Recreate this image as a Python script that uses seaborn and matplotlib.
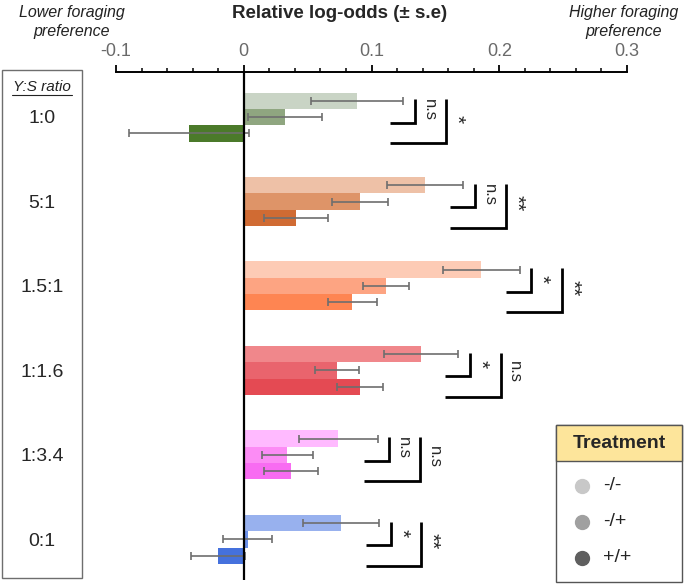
import matplotlib
matplotlib.use("Agg")
import matplotlib.pyplot as plt
from matplotlib.patches import Rectangle
from matplotlib.transforms import blended_transform_factory
import numpy as np
import pandas as pd
import seaborn as sns

# Y:S ratio groups and treatments
ratios = ["1:0", "5:1", "1.5:1", "1:1.6", "1:3.4", "0:1"]
treatments = ["-/-", "-/+", "+/+"]

# relative log-odds per treatment
odds_nn = [0.089, 0.142, 0.186, 0.139, 0.074, 0.076]
odds_np = [0.032, 0.091, 0.111, 0.073, 0.034, 0.003]
odds_pp = [-0.043, 0.041, 0.085, 0.091, 0.037, -0.020]

# standard errors
se_nn = [0.036, 0.030, 0.030, 0.029, 0.031, 0.030]
se_np = [0.029, 0.022, 0.018, 0.017, 0.020, 0.019]
se_pp = [0.047, 0.025, 0.019, 0.018, 0.021, 0.021]

# significance: -/- vs -/+ and -/- vs +/+
sig_pair = ["n.s", "n.s", "*", "*", "n.s", "*"]
sig_all = ["*", "**", "**", "n.s", "n.s", "**"]

# one colour triple per ratio group
group_colors = [
    ["#c9d4c5", "#8fa680", "#4b7a2a"],
    ["#eec1a7", "#de9468", "#d06b33"],
    ["#fdcbb5", "#fda482", "#fe8552"],
    ["#f0878b", "#e9646d", "#e44a53"],
    ["#ffbaff", "#fc8cf5", "#f86cf2"],
    ["#98b1ee", "#6d92e9", "#4571dd"],
]
legend_colors = ["#c8c8c8", "#a0a0a0", "#5f5f5f"]

rows = []
for t, vals, errs in zip(treatments, [odds_nn, odds_np, odds_pp], [se_nn, se_np, se_pp]):
    for r, v, e in zip(ratios, vals, errs):
        rows.append({"ratio": r, "treatment": t, "log_odds": v, "se": e})
df = pd.DataFrame(rows)

sns.set_style("white")
plt.rcParams["font.family"] = ["Liberation Sans", "DejaVu Sans"]

fig = plt.figure(figsize=(6.85, 5.84), dpi=100)
ax = fig.add_axes([116 / 685, 4 / 584, 511 / 685, 508 / 584])

sns.barplot(data=df, x="log_odds", y="ratio", hue="treatment", orient="h",
            order=ratios, hue_order=treatments, width=0.58, errorbar=None,
            legend=False, linewidth=0, ax=ax)

# recolour bars per group and add error bars
bar_containers = list(ax.containers)
for ti, cont in enumerate(bar_containers):
    sub = df[df.treatment == treatments[ti]].set_index("ratio").loc[ratios]
    for gi, bar in enumerate(cont):
        bar.set_facecolor(group_colors[gi][ti])
        bar.set_edgecolor("none")
        yc = bar.get_y() + bar.get_height() / 2
        ax.errorbar(sub.log_odds.iloc[gi], yc, xerr=sub.se.iloc[gi], fmt="none",
                    ecolor="#6e6e6e", elinewidth=1.2, capsize=3.2, capthick=1.2, zorder=3)

ax.set_xlim(-0.1, 0.3)
ax.set_ylim(5.48, -0.533)
ax.axvline(0, color="black", lw=1.6, zorder=4)

# axis on top, ticks pointing up
ax.xaxis.tick_top()
ax.set_xticks([-0.1, 0, 0.1, 0.2, 0.3])
ax.set_xticklabels(["-0.1", "0", "0.1", "0.2", "0.3"])
ax.set_xticks(np.arange(-0.1, 0.301, 0.02), minor=True)
ax.tick_params(axis="x", which="major", direction="out", length=5, width=1.3,
               color="black", labelsize=13, labelcolor="#6a6a6a", pad=4)
ax.tick_params(axis="x", which="minor", direction="out", length=3, width=1.1, color="black")
ax.set_yticks([])
ax.set_xlabel("")
ax.set_ylabel("")
for s in ["left", "right", "bottom"]:
    ax.spines[s].set_visible(False)
ax.spines["top"].set_color("black")
ax.spines["top"].set_linewidth(1.4)

# significance brackets
for gi in range(len(ratios)):
    top_err = max(odds_nn[gi] + se_nn[gi], odds_np[gi] + se_np[gi])
    xs = top_err + 0.009
    xb = xs + 0.024
    xl = xs - 0.0195
    y0 = gi - 0.21
    ax.plot([xl, xs, xs], [gi + 0.07, gi + 0.07, y0], color="black", lw=2.0,
            solid_capstyle="butt", solid_joinstyle="miter", zorder=5)
    ax.plot([xl, xb, xb], [gi + 0.31, gi + 0.31, y0], color="black", lw=2.0,
            solid_capstyle="butt", solid_joinstyle="miter", zorder=5)
    for xt, yt, lab in [(xs, gi - 0.08, sig_pair[gi]), (xb, gi + 0.02, sig_all[gi])]:
        if lab == "n.s":
            ax.text(xt + 0.011, yt, lab, rotation=-90, ha="center", va="center", fontsize=12)
        else:
            ax.text(xt + 0.008, yt, lab, rotation=-90, ha="center", va="center", fontsize=15)

# left box with ratio labels
fig.patches.append(Rectangle((2 / 685, 6 / 584), 80 / 685, 508 / 584, transform=fig.transFigure,
                             facecolor="none", edgecolor="#6e6e6e", lw=1.0))
trans = blended_transform_factory(fig.transFigure, ax.transData)
for gi, r in enumerate(ratios):
    ax.text(42 / 685, gi + 0.02, r, transform=trans, ha="center", va="center", fontsize=14,
            clip_on=False)
fig.text(42 / 685, 1 - 87 / 584, "Y:S ratio", ha="center", va="center", fontsize=11,
         style="italic", color="#222222")
fig.lines.append(plt.Line2D([12 / 685, 72 / 685], [1 - 95 / 584, 1 - 95 / 584],
                            transform=fig.transFigure, color="#222222", lw=0.8))

# header texts
fig.text(340 / 685, 1 - 13 / 584, "Relative log-odds (± s.e)", ha="center", va="center",
         fontsize=13.5, fontweight="bold")
fig.text(72 / 685, 1 - 22 / 584, "Lower foraging\npreference", ha="center", va="center",
         fontsize=11.5, style="italic", color="#222222", linespacing=1.3)
fig.text(624 / 685, 1 - 22 / 584, "Higher foraging\npreference", ha="center", va="center",
         fontsize=11.5, style="italic", color="#222222", linespacing=1.3)

# treatment legend
fig.patches.append(Rectangle((556 / 685, 2 / 584), 126 / 685, 157 / 584, transform=fig.transFigure,
                             facecolor="white", edgecolor="#555555", lw=1.0))
fig.patches.append(Rectangle((556 / 685, 123 / 584), 126 / 685, 36 / 584, transform=fig.transFigure,
                             facecolor="#fde59b", edgecolor="#555555", lw=1.0))
fig.text(619 / 685, 1 - 443 / 584, "Treatment", ha="center", va="center", fontsize=14,
         fontweight="bold")
for i, (t, c) in enumerate(zip(treatments, legend_colors)):
    yy = 1 - (486 + 36 * i) / 584
    fig.lines.append(plt.Line2D([582 / 685], [yy], marker="o", markersize=10, color=c,
                                transform=fig.transFigure, linestyle="none"))
    fig.text(603 / 685, yy, t, ha="left", va="center", fontsize=14)

fig.savefig("out.png", dpi=100)
